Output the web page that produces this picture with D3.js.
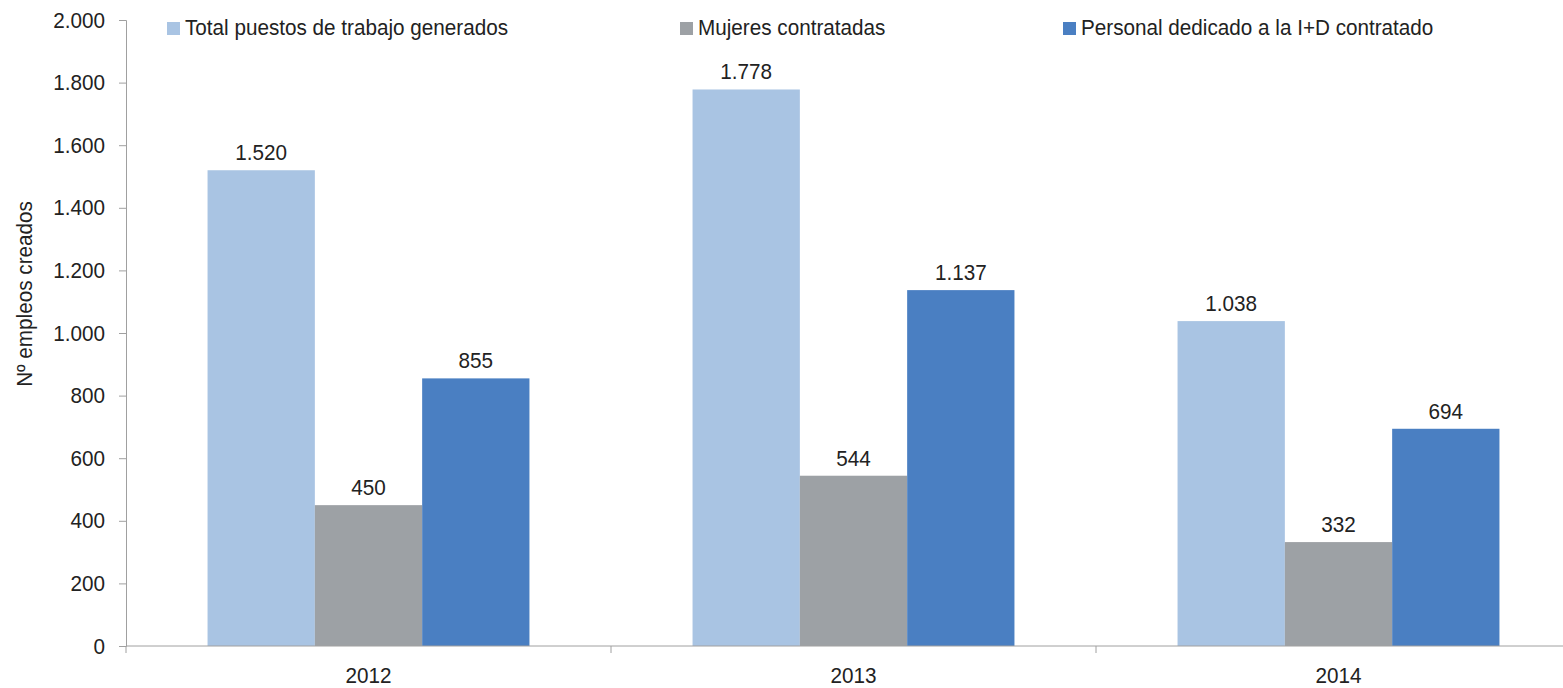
<!DOCTYPE html>
<html>
<head>
<meta charset="utf-8">
<script src="https://cdn.jsdelivr.net/npm/d3@7"></script>
<style>
  html, body { margin: 0; padding: 0; background: #fff; }
  svg { display: block; font-family: "Liberation Sans", Arial, sans-serif; }
</style>
</head>
<body>
<svg id="chart" width="1563" height="688"></svg>
<script>
const years = ["2012", "2013", "2014"];
const seriesNames = ["Total puestos de trabajo generados", "Mujeres contratadas", "Personal dedicado a la I+D contratado"];
const totalPuestos = [1520, 1778, 1038];
const mujeres = [450, 544, 332];
const personalID = [855, 1137, 694];
const yTicks = [0, 200, 400, 600, 800, 1000, 1200, 1400, 1600, 1800, 2000];
const colors = ["#A9C4E3", "#9DA1A5", "#4A7FC2"];

(function () {
const seriesValues = [totalPuestos, mujeres, personalID];
const svg = d3.select("#chart");
const mLeft = 126, mTop = 20, mBottom = 646;
const bandW = 485;
const squeeze = 0.94;

const fmt = v => d3.format(",")(v).replace(/,/g, ".");

const x = d3.scaleBand().domain(years).range([mLeft, mLeft + bandW * years.length]).paddingInner(0).paddingOuter(0);
const x1 = d3.scaleBand().domain(d3.range(seriesNames.length)).range([0, x.bandwidth()]).paddingOuter(0.76).paddingInner(0);
const y = d3.scaleLinear().domain([0, 2000]).range([mBottom, mTop]);

// Y axis
const yAxis = d3.axisLeft(y).tickValues(yTicks).tickSize(7).tickPadding(14).tickFormat(fmt);
const gy = svg.append("g").attr("transform", `translate(${mLeft},0)`).call(yAxis);
gy.select(".domain").attr("stroke", "#A0A0A0");
gy.selectAll(".tick line").attr("stroke", "#A0A0A0");
gy.selectAll(".tick text").attr("font-size", 22).attr("fill", "#222").attr("font-family", "Liberation Sans, Arial, sans-serif");

// Bars
const groups = svg.append("g").selectAll("g").data(years).join("g")
  .attr("transform", d => `translate(${x(d)},0)`);
groups.selectAll("rect").data((d, i) => seriesValues.map((s, k) => ({k, v: s[i]}))).join("rect")
  .attr("x", d => x1(d.k))
  .attr("width", x1.bandwidth())
  .attr("y", d => y(d.v))
  .attr("height", d => y(0) - y(d.v))
  .attr("fill", d => colors[d.k]);
groups.selectAll("text").data((d, i) => seriesValues.map((s, k) => ({k, v: s[i]}))).join("text")
  .attr("x", d => x1(d.k) + x1.bandwidth() / 2)
  .attr("y", d => y(d.v) - 10)
  .attr("text-anchor", "middle")
  .attr("font-size", 22)
  .attr("fill", "#222")
  .text(d => fmt(d.v));

// X axis
const xAxisG = svg.append("g").attr("transform", `translate(0,${mBottom})`);
xAxisG.append("line").attr("x1", mLeft).attr("x2", x.range()[1]).attr("y1", 0).attr("y2", 0).attr("stroke", "#A0A0A0");
const boundaries = years.map(d => x(d)).concat([x.range()[1]]);
xAxisG.selectAll("line.tk").data(boundaries).join("line").attr("class", "tk")
  .attr("x1", d => d).attr("x2", d => d).attr("y1", 0).attr("y2", 7).attr("stroke", "#A0A0A0");
xAxisG.selectAll("text").data(years).join("text")
  .attr("x", d => x(d) + x.bandwidth() / 2)
  .attr("y", 37)
  .attr("text-anchor", "middle")
  .attr("font-size", 22)
  .attr("fill", "#222")
  .text(d => d);

// Y axis title
svg.append("text")
  .attr("transform", "translate(32,294) rotate(-90)")
  .attr("text-anchor", "middle")
  .attr("font-size", 22)
  .attr("fill", "#222")
  .text("Nº empleos creados");

// Legend
const legendX = [167, 680, 1063];
const leg = svg.append("g").selectAll("g").data(seriesNames).join("g")
  .attr("transform", (d, i) => `translate(${legendX[i]},22)`);
leg.append("rect").attr("width", 13).attr("height", 13).attr("fill", (d, i) => colors[i]);
leg.append("text").attr("x", 18).attr("y", 13).attr("font-size", 22).attr("fill", "#222").text(d => d);

// Slightly condensed glyphs, like the reference
svg.selectAll("text").each(function () {
  const w = this.getComputedTextLength();
  d3.select(this).attr("textLength", w * squeeze).attr("lengthAdjust", "spacingAndGlyphs");
});
})();
</script>
</body>
</html>
